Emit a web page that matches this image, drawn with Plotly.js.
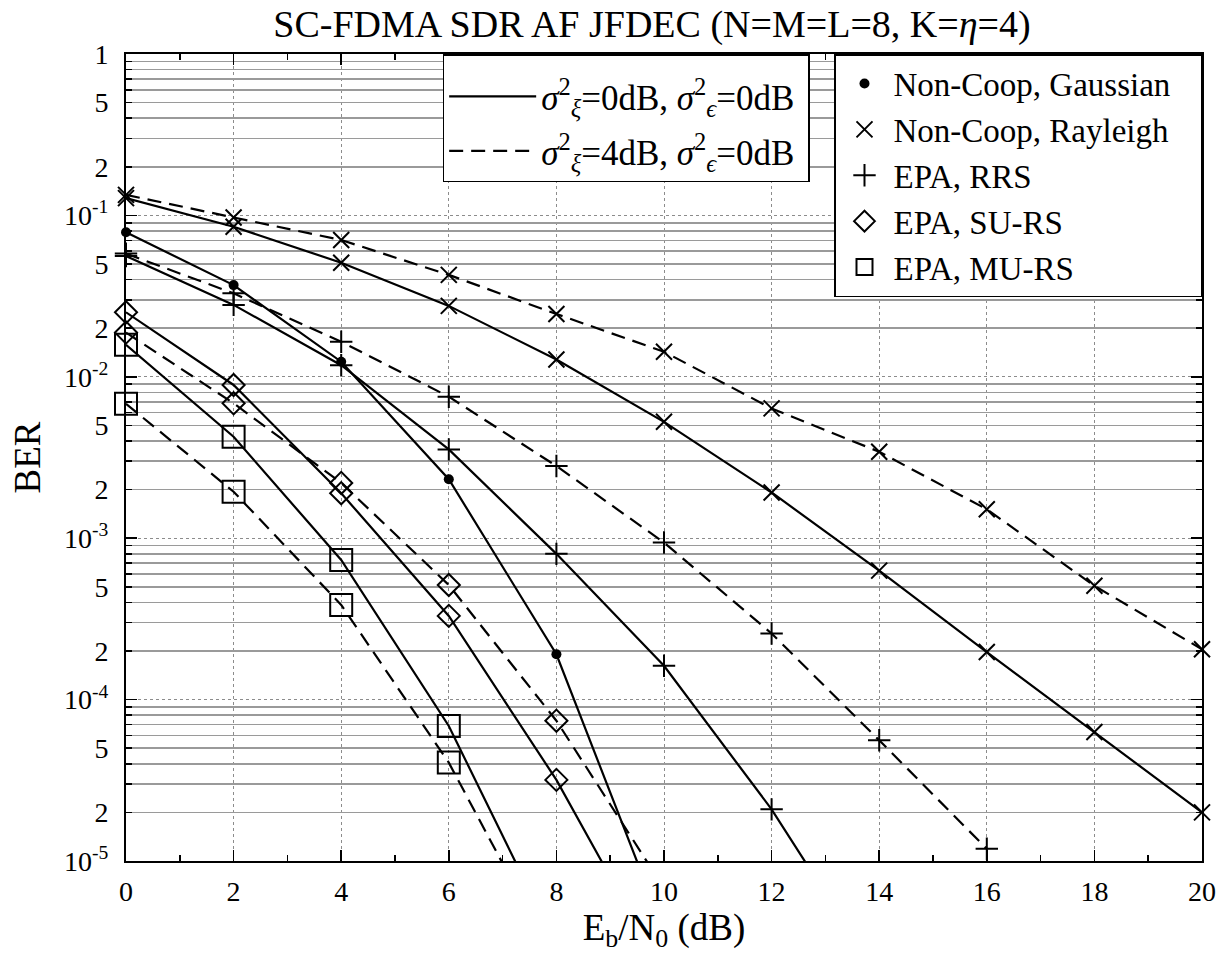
<!DOCTYPE html>
<html><head><meta charset="utf-8">
<script src="https://cdn.plot.ly/plotly-3.0.1.min.js"></script>
<style>html,body{margin:0;padding:0;background:#fff}#chart{width:1220px;height:957px}</style>
</head><body><div id="chart"></div>
<script>
// x values (Eb/N0 in dB)
const ebn0 = [0, 2, 4, 6, 8, 10, 12, 14, 16, 18, 20];

// Non-Coop, Gaussian (solid only)
const gaussSolid = [0.0786, 0.037, 0.0124, 0.00232, 1.91e-4, 3.7e-6];
// Non-Coop, Rayleigh
const raySolid = [0.128, 0.085, 0.0509, 0.0275, 0.0128, 0.00526, 0.00192, 6.3e-4, 1.97e-4, 6.3e-5, 2.0e-5];
const rayDash  = [0.134, 0.097, 0.0704, 0.0428, 0.0245, 0.0143, 0.00637, 0.00343, 0.00151, 5.07e-4, 2.05e-4];
// EPA, RRS
const rrsSolid = [0.056, 0.0279, 0.0118, 0.00355, 8.0e-4, 1.62e-4, 2.09e-5, 1.9e-6];
const rrsDash  = [0.058, 0.0329, 0.0165, 0.00753, 0.0028, 9.4e-4, 2.57e-4, 5.6e-5, 1.19e-5];
// EPA, SU-RS
const suSolid = [0.0251, 0.0089, 0.0019, 3.3e-4, 3.18e-5, 2.0e-6];
const suDash  = [0.0188, 0.00685, 0.0022, 5.13e-4, 7.4e-5, 6.8e-6];
// EPA, MU-RS
const muSolid = [0.0158, 0.00425, 7.33e-4, 6.86e-5, 3.0e-6];
const muDash  = [0.0068, 0.00194, 3.86e-4, 4.07e-5, 2.3e-6];

// tick labels
const decadeVals = [1e-5, 1e-4, 1e-3, 1e-2, 1e-1, 1];
const decadeText = ['10<sup>-5</sup>', '10<sup>-4</sup>', '10<sup>-3</sup>', '10<sup>-2</sup>', '10<sup>-1</sup>', '1'];
const minorDigits = [2, 3, 4, 5, 6, 7, 8, 9];
const minorDigitText = ['2', '', '', '5', '', '', '', ''];
const decadeExps = [-5, -4, -3, -2, -1];

// legend labels
const styleNames = [
  '<i>σ</i><sup>2</sup><sub><i>ξ</i></sub>=0dB, <i>σ</i><sup>2</sup><sub><i>ϵ</i></sub>=0dB',
  '<i>σ</i><sup>2</sup><sub><i>ξ</i></sub>=4dB, <i>σ</i><sup>2</sup><sub><i>ϵ</i></sub>=0dB'
];
const markerNames = ['Non-Coop, Gaussian', 'Non-Coop, Rayleigh', 'EPA, RRS', 'EPA, SU-RS', 'EPA, MU-RS'];

const FONT = 'Liberation Serif, Times New Roman, serif';
const DASH = '14px,8px';
const NBSP = '\u00a0';

const symbolStyles = [
  {symbol: 'circle', size: 10, filled: true},
  {symbol: 'x-thin', size: 16},
  {symbol: 'cross-thin', size: 16},
  {symbol: 'diamond-open', size: 17},
  {symbol: 'square-open', size: 22}
];

const series = [
  {y: gaussSolid, m: 0, dash: 'solid'},
  {y: raySolid, m: 1, dash: 'solid'},
  {y: rayDash, m: 1, dash: DASH},
  {y: rrsSolid, m: 2, dash: 'solid'},
  {y: rrsDash, m: 2, dash: DASH},
  {y: suSolid, m: 3, dash: 'solid'},
  {y: suDash, m: 3, dash: DASH},
  {y: muSolid, m: 4, dash: 'solid'},
  {y: muDash, m: 4, dash: DASH}
];

function markerSpec(s) {
  const st = symbolStyles[s];
  return {
    symbol: st.symbol, size: st.size,
    color: 'black',
    line: {color: 'black', width: st.filled ? 0 : 2}
  };
}

const traces = [];
series.forEach(s => {
  const xs = ebn0.slice(0, s.y.length);
  traces.push({
    x: xs, y: s.y, mode: 'lines', showlegend: false, hoverinfo: 'skip',
    line: {color: 'black', width: 2.2, dash: s.dash}
  });
  const mx = [], my = [];
  s.y.forEach((v, i) => { if (v >= 1e-5) { mx.push(xs[i]); my.push(v); } });
  traces.push({
    x: mx, y: my, mode: 'markers', showlegend: false, cliponaxis: false,
    marker: markerSpec(s.m)
  });
});

// legend entries (line style)
['solid', DASH].forEach((d, i) => {
  traces.push({
    x: [null], y: [null], mode: 'lines', name: styleNames[i] + NBSP, legend: 'legend', yaxis: 'y2',
    legendgroup: 'style' + i,
    line: {color: 'black', width: 2.2, dash: d}
  });
});
// legend entries (marker)
markerNames.forEach((n, i) => {
  traces.push({
    x: [null], y: [null], mode: 'markers', name: n + NBSP + NBSP + NBSP, legend: 'legend2', yaxis: 'y2',
    marker: markerSpec(i)
  });
});

const minorVals = [], minorText = [];
decadeExps.forEach(e => minorDigits.forEach((d, k) => {
  minorVals.push(d * Math.pow(10, e));
  minorText.push(minorDigitText[k]);
}));

const layout = {
  width: 1220, height: 957,
  paper_bgcolor: 'white', plot_bgcolor: 'white',
  margin: {l: 126, r: 18, t: 54, b: 96},
  font: {family: FONT, color: 'black', size: 28},
  title: {
    text: 'SC-FDMA SDR AF JFDEC (N=M=L=8, K=<i>η</i>=4)',
    font: {family: FONT, size: 38, color: 'black'},
    x: 0.4888, xref: 'paper', xanchor: 'center',
    y: 0.975, yref: 'container', yanchor: 'middle'
  },
  xaxis: {
    range: [0, 20], dtick: 2, tick0: 0,
    showline: true, linecolor: 'black', linewidth: 2, mirror: 'ticks',
    ticks: 'inside', ticklen: 11, tickwidth: 1.5, tickcolor: 'black',
    showgrid: true, gridcolor: '#8c8c8c', griddash: 'dot', gridwidth: 1,
    zeroline: false, ticklabelstandoff: 4,
    tickfont: {family: FONT, size: 28},
    minor: {dtick: 1, ticks: 'inside', ticklen: 6, tickwidth: 1.5, tickcolor: 'black', showgrid: false},
    title: {text: 'E<sub>b</sub>/N<sub>0</sub> (dB)', font: {family: FONT, size: 37}, standoff: 8}
  },
  yaxis: {
    type: 'log', range: [-5, 0],
    tickmode: 'array', tickvals: minorVals, ticktext: minorText,
    showline: true, linecolor: 'black', linewidth: 2, mirror: 'ticks',
    ticks: 'inside', ticklen: 6, tickwidth: 1.5, tickcolor: 'black',
    showgrid: true, gridcolor: '#9a9a9a', gridwidth: 1.5,
    zeroline: false, ticklabelstandoff: 10,
    tickfont: {family: FONT, size: 28},
    title: {text: 'BER', font: {family: FONT, size: 37}, standoff: 42}
  },
  yaxis2: {
    type: 'log', range: [-5, 0], overlaying: 'y', side: 'left', anchor: 'x',
    tickmode: 'array', tickvals: decadeVals, ticktext: decadeText,
    showline: true, linecolor: 'black', linewidth: 2, mirror: 'ticks',
    ticks: 'inside', ticklen: 11, tickwidth: 1.5, tickcolor: 'black',
    showgrid: true, gridcolor: '#8c8c8c', griddash: 'dot', gridwidth: 1,
    zeroline: false, ticklabelstandoff: 10,
    tickfont: {family: FONT, size: 28}
  },
  legend: {
    x: 0.2943, xref: 'paper', xanchor: 'left', y: 1, yref: 'paper', yanchor: 'top',
    bgcolor: 'white', bordercolor: 'black', borderwidth: 1.5,
    font: {family: FONT, size: 35, color: 'black'}, itemwidth: 87,
    tracegroupgap: 6,
    title: {text: NBSP, font: {family: FONT, size: 9}}
  },
  legend2: {
    x: 1, xref: 'paper', xanchor: 'right', y: 1, yref: 'paper', yanchor: 'top',
    bgcolor: 'white', bordercolor: 'black', borderwidth: 1.5,
    font: {family: FONT, size: 33, color: 'black'}, itemwidth: 48
  },
  showlegend: true
};

Plotly.newPlot('chart', traces, layout, {staticPlot: true, displayModeBar: false});
</script>
</body></html>
